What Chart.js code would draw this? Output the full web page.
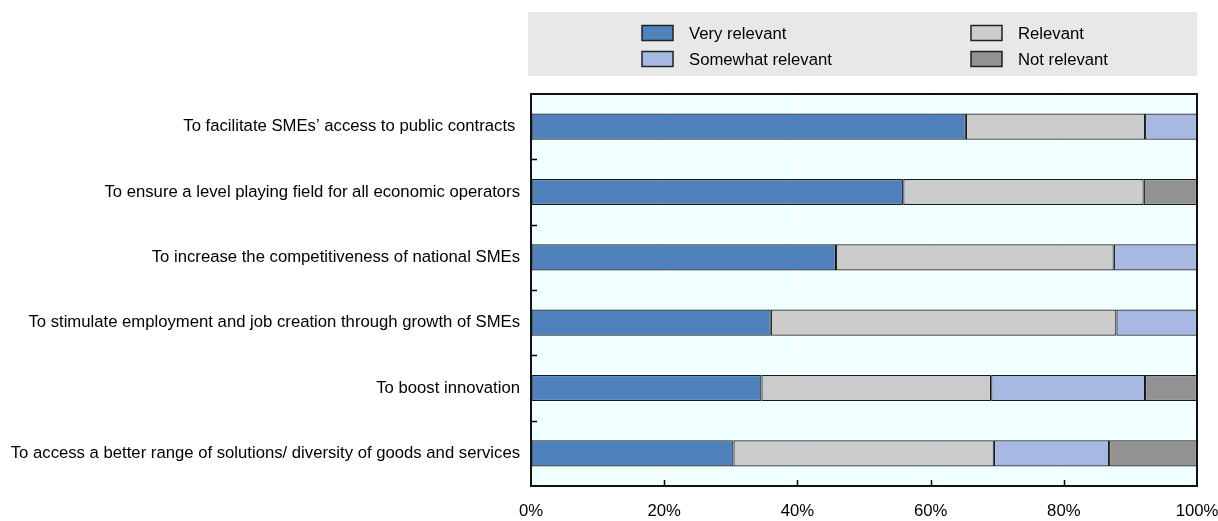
<!DOCTYPE html>
<html>
<head>
<meta charset="utf-8">
<script src="https://cdn.jsdelivr.net/npm/chart.js@4/dist/chart.umd.min.js"></script>
<style>
  html, body { margin: 0; padding: 0; background: #fff; }
  #wrap { width: 1218px; height: 521px; }
</style>
</head>
<body>
<div id="wrap"><canvas id="myChart" width="1218" height="521"></canvas></div>
<script>
var categories = [
    'To facilitate SMEs\u2019 access to public contracts ',
    'To ensure a level playing field for all economic operators',
    'To increase the competitiveness of national SMEs',
    'To stimulate employment and job creation through growth of SMEs',
    'To boost innovation',
    'To access a better range of solutions/ diversity of goods and services'
];
var veryRelevant     = [65.3, 55.9, 45.8, 36.0, 34.6, 30.4];
var relevant         = [26.9, 36.1, 41.7, 51.9, 34.5, 39.1];
var somewhatRelevant = [7.8, 0, 12.5, 12.1, 23.1, 17.3];
var notRelevant      = [0, 8.0, 0, 0, 7.8, 13.2];
var tickValues = [0, 20, 40, 60, 80, 100];

var FONT = "'Liberation Sans', Arial, sans-serif";
var FONT_SIZE = 16.7;

// light plot background + frame + inward ticks
var frame = {
    id: 'frame',
    beforeDraw: function(chart) {
        var a = chart.chartArea, ctx = chart.ctx;
        ctx.save();
        ctx.fillStyle = '#f0ffff';
        ctx.fillRect(a.left, a.top, a.right - a.left, a.bottom - a.top);
        ctx.restore();
    },
    afterDatasetsDraw: function(chart) {
        var a = chart.chartArea, ctx = chart.ctx;
        var x = chart.scales.x, y = chart.scales.y;
        ctx.save();
        ctx.strokeStyle = '#000';
        ctx.lineWidth = 1.5;
        for (var i = 1; i < categories.length; i++) {
            var yy = Math.round((y.getPixelForValue(i - 1) + y.getPixelForValue(i)) / 2) + 0.5;
            ctx.beginPath();
            ctx.moveTo(a.left, yy);
            ctx.lineTo(a.left + 6, yy);
            ctx.stroke();
        }
        for (var j = 1; j < tickValues.length - 1; j++) {
            var xx = Math.round(x.getPixelForValue(tickValues[j])) + 0.5;
            ctx.beginPath();
            ctx.moveTo(xx, a.bottom);
            ctx.lineTo(xx, a.bottom - 6);
            ctx.stroke();
        }
        ctx.lineWidth = 2;
        ctx.strokeStyle = '#111';
        ctx.strokeRect(a.left, a.top, a.right - a.left, a.bottom - a.top);
        ctx.restore();
    }
};

// two-column legend on a grey panel above the plot
var legendPanel = {
    id: 'legendPanel',
    afterDraw: function(chart) {
        var a = chart.chartArea, ctx = chart.ctx;
        var left = a.left - 3;
        ctx.save();
        ctx.fillStyle = '#e8e8e8';
        ctx.fillRect(left, 12, a.right - left, 64);
        var cols = [left + 114, left + 443];
        var rows = [33, 59];
        ctx.font = FONT_SIZE + 'px ' + FONT;
        ctx.textBaseline = 'middle';
        chart.data.datasets.forEach(function(ds, i) {
            var cx = cols[i % 2], cy = rows[Math.floor(i / 2)];
            ctx.fillStyle = ds.backgroundColor;
            ctx.fillRect(cx, cy - 7.5, 31, 15);
            ctx.strokeStyle = '#222';
            ctx.lineWidth = 1.5;
            ctx.strokeRect(cx, cy - 7.5, 31, 15);
            ctx.fillStyle = '#000';
            ctx.fillText(ds.label, cx + 47, cy + 1);
        });
        ctx.restore();
    }
};

var ctx = document.getElementById('myChart').getContext('2d');

var myChart = new Chart(ctx, {
    type: 'bar',
    data: {
        labels: categories,
        datasets: [
            { label: 'Very relevant', data: veryRelevant, backgroundColor: '#4f81bd' },
            { label: 'Relevant', data: relevant, backgroundColor: '#cccccc' },
            { label: 'Somewhat relevant', data: somewhatRelevant, backgroundColor: '#a7b9e3' },
            { label: 'Not relevant', data: notRelevant, backgroundColor: '#929292' }
        ].map(function(d) {
            d.borderColor = '#1a1a1a';
            d.borderWidth = 1.2;
            d.borderSkipped = false;
            d.barPercentage = 0.4;
            d.categoryPercentage = 1;
            return d;
        })
    },
    options: {
        indexAxis: 'y',
        responsive: false,
        animation: false,
        events: [],
        layout: { padding: { left: 10, right: 21, top: 94, bottom: 0 } },
        plugins: {
            legend: { display: false },
            tooltip: { enabled: false }
        },
        scales: {
            x: {
                stacked: true,
                min: 0,
                max: 100,
                afterBuildTicks: function(s) {
                    s.ticks = tickValues.map(function(v) { return { value: v }; });
                },
                afterFit: function(s) {
                    s.height = 35;
                    s.paddingLeft = 0;
                    s.paddingRight = 0;
                },
                border: { display: false },
                grid: { color: '#ffffff', lineWidth: 1, drawTicks: false },
                ticks: {
                    padding: 15,
                    color: '#000',
                    maxRotation: 0,
                    font: { family: FONT, size: FONT_SIZE },
                    callback: function(v) { return v + '%'; }
                }
            },
            y: {
                stacked: true,
                afterFit: function(s) {
                    s.width = 521;
                    s.paddingTop = 0;
                    s.paddingBottom = 0;
                },
                border: { display: false },
                grid: { color: '#ffffff', lineWidth: 1, drawTicks: false },
                ticks: {
                    padding: 11,
                    color: '#000',
                    autoSkip: false,
                    font: { family: FONT, size: FONT_SIZE }
                }
            }
        }
    },
    plugins: [frame, legendPanel]
});
</script>
</body>
</html>
